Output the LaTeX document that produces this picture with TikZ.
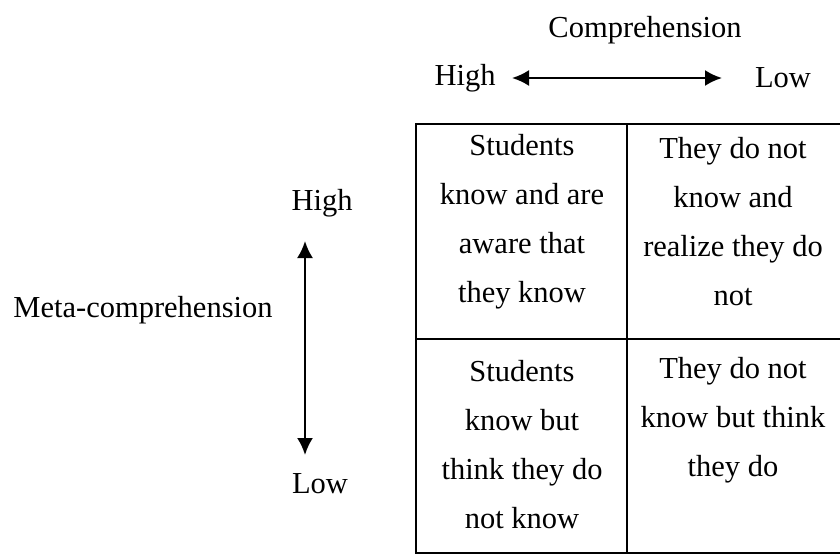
\documentclass[tikz,border=0pt]{standalone}
\usepackage{fontspec}
\setmainfont{Liberation Serif}
\usetikzlibrary{arrows.meta}
\begin{document}
\begin{tikzpicture}
[
x=1pt, y=-1pt,
lbl/.style={inner sep=0pt, font=\fontsize{30.5}{49}\selectfont},
celltext/.style={inner sep=0pt, align=center, font=\fontsize{30.5}{49}\selectfont},
grid/.style={line width=1.6pt},
axisarrow/.style={line width=2.2pt, {Latex[length=17pt,width=16pt]}-{Latex[length=17pt,width=16pt]}}
]
\useasboundingbox (0,0) rectangle (840,554);
%Labels
\node[lbl]		(comp) at(645,30) {Comprehension};
\node[lbl]		(hhigh) at(465,78) {High};
\node[lbl]		(hlow) at(783,78) {Low};
\node[lbl]		(meta) at(143,310) {Meta-comprehension};
\node[lbl]		(vhigh) at(322,203) {High};
\node[lbl]		(vlow) at(320,484) {Low};
%Arrows
\coordinate	(hl) at(512,78);
\coordinate	(hr) at(722,78);
\coordinate	(vt) at(305,241);
\coordinate	(vb) at(305,455);
\draw[axisarrow] (hl) -- (hr);
\draw[axisarrow] (vt) -- (vb);
%Table
\draw[grid] (840,124) -- (416,124) -- (416,554);
\draw[grid] (627,124) -- (627,554);
\draw[grid] (416,339) -- (840,339);
\draw[grid] (416,553) -- (840,553);
%Cells
\node[celltext]	(c11) at(522,222) {Students\\know and are\\aware that\\they know};
\node[celltext]	(c12) at(733,222) {They do not\\know and\\realize they do\\not};
\node[celltext]	(c21) at(522,445) {Students\\know but\\think they do\\not know};
\node[celltext]	(c22) at(733,420) {They do not\\know but think\\they do};
\end{tikzpicture}
\end{document}
